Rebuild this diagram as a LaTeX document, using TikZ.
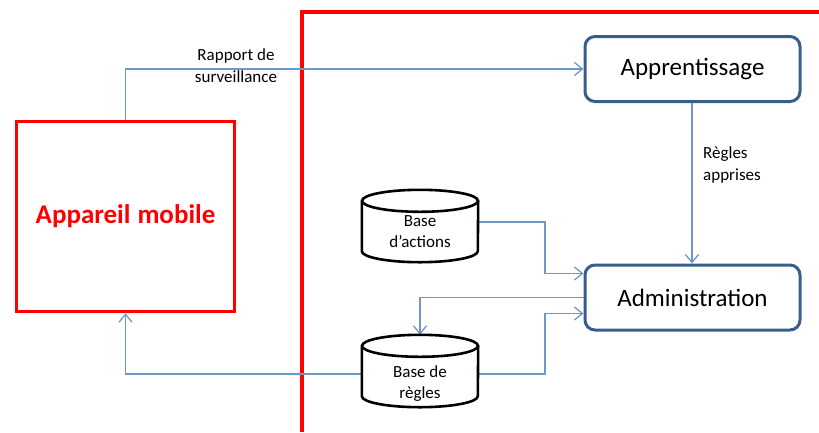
\documentclass[tikz,border=0pt]{standalone}
\usepackage{fontspec}
\setmainfont{Carlito}
\usetikzlibrary{arrows.meta,calc}
\definecolor{linkblue}{RGB}{110,152,204}
\definecolor{boxblue}{RGB}{58,94,140}
\definecolor{alertred}{RGB}{255,0,0}
\tikzset{
  link/.style={draw=linkblue,line width=1.3pt,-{Straight Barb[length=8pt,width=13pt,line width=1.3pt]}},
  procbox/.style={draw=boxblue,line width=3pt,rounded corners=10pt,minimum width=215pt,minimum height=65pt,font=\fontsize{25}{30}\selectfont,fill=white},
  devicebox/.style={draw=alertred,line width=3.5pt,minimum width=218pt,minimum height=190pt,text=alertred,font=\fontsize{27}{32}\selectfont\bfseries},
  dbshape/.style={minimum width=116pt,minimum height=50pt,inner sep=0pt},
  dbtext/.style={font=\fontsize{17}{21}\selectfont,align=center,inner sep=0pt},
  smalllabel/.style={font=\fontsize{17}{22}\selectfont,inner sep=0pt}
}
\newcommand{\drawdb}[1]{%
  \draw[line width=2.6pt,fill=white]
    (#1.north west) -- (#1.south west)
    arc[start angle=180,end angle=360,x radius=58pt,y radius=11pt]
    -- (#1.north east);
  \draw[line width=2.6pt,fill=white] (#1.north) ellipse[x radius=58pt,y radius=11pt];
}
\begin{document}
\begin{tikzpicture}[x=1pt,y=-1pt]
\useasboundingbox (0,0) rectangle (819,432);

% outer frame of the system
\draw[draw=alertred,line width=3.5pt,line join=miter] (302,432) -- (302,12) -- (830,12);

% main blocks
\node[devicebox] (device) at (125.5,216.5) {Appareil\hspace{7pt}mobile};
\node[procbox] (learn) at (692.5,69) {Apprentissage};
\node[procbox] (admin) at (692.5,297.5) {Administration};

% databases
\node[dbshape] (actions) at (420,226) {};
\node[dbshape] (rules) at (420,371) {};

% vertical bus line and helper points
\coordinate (bus) at (545,0);
\coordinate (vline) at (692,0);
\coordinate (aout) at ($(actions.east)+(0,-4)$);
\coordinate (rout) at ($(rules.east)+(0,3)$);
\coordinate (rin) at ($(rules.west)+(0,3)$);
\coordinate (ain) at ($(admin.west)+(0,-24)$);
\coordinate (rtoadm) at ($(admin.west)+(0,16)$);
\coordinate (rtop) at ($(rules.north)+(0,-11)$);

% connectors
\draw[link] (device.north) -- (device.north |- learn.west) -- (learn.west);
\node[smalllabel,align=center] (rapport) at (236,66) {Rapport de\\surveillance};
\draw[link] (learn.south -| vline) -- (admin.north -| vline);
\node[smalllabel,align=left,anchor=west] (learnlbl) at (703,165) {Règles\\apprises};

\draw[link] (aout) -- (aout -| bus) -- (ain -| bus) -- (ain);
\draw[link] (admin.west) -- (admin.west -| rtop) -- (rtop);
\draw[link] (rout) -- (rout -| bus) -- (rtoadm -| bus) -- (rtoadm);
\draw[link] (rin) -- (rin -| device.south) -- (device.south);

% database drawings over the connector ends
\drawdb{actions}
\drawdb{rules}
\node[dbtext] (actionstxt) at (420,232) {Base\\d’actions};
\node[dbtext] (rulestxt) at (420,384) {Base de\\règles};
\end{tikzpicture}
\end{document}
